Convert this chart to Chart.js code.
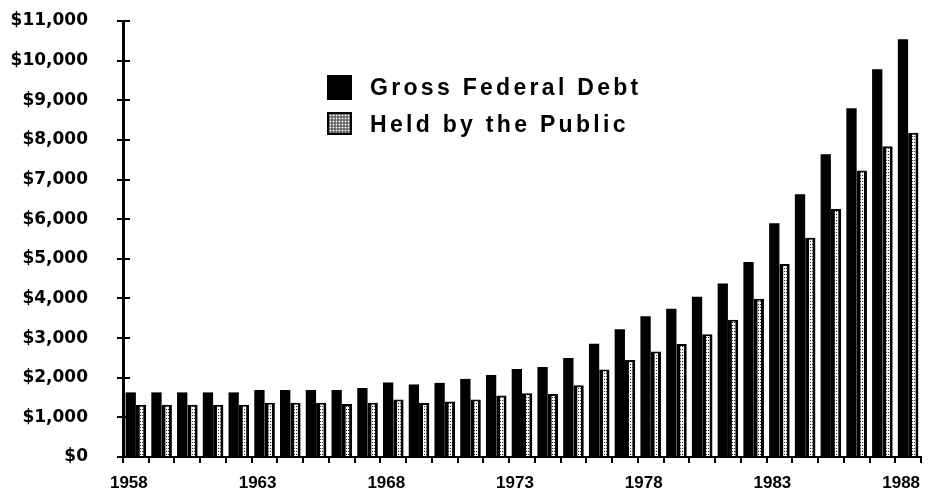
<!DOCTYPE html>
<html>
<head>
<meta charset="utf-8">
<script src="https://cdn.jsdelivr.net/npm/chart.js@4"></script>
<style>
  html, body { margin: 0; padding: 0; background: #fff; overflow: hidden; }
  #wrap { position: relative; width: 932px; height: 493px; }
  #c { display: block; width: 932px; height: 493px; }
  #legend { position: absolute; left: 327px; top: 75px; font-family: "Liberation Sans", Arial, sans-serif; font-weight: bold; font-size: 23px; letter-spacing: 3.3px; color: #000; }
  .row { position: relative; height: 37px; }
  .box { position: absolute; left: 0; width: 25px; height: 25px; box-sizing: border-box; }
  .box.solid { background: #000; top: 0; }
  .box.hatch { top: 0; height: 23px; border: 2px solid #000;
    background-color: #666;
    background-image: radial-gradient(circle, #fff 0.8px, transparent 1.1px);
    background-size: 3px 3px; }
  .lbl { position: absolute; left: 43px; top: -2px; white-space: nowrap; line-height: 28px; }
</style>
</head>
<body>
<div id="wrap">
  <canvas id="c" width="932" height="493"></canvas>
  <div id="legend">
    <div class="row"><div class="box solid"></div><div class="lbl">Gross Federal Debt</div></div>
    <div class="row"><div class="box hatch"></div><div class="lbl">Held by the Public</div></div>
  </div>
</div>
<script>
const years = [1958,1959,1960,1961,1962,1963,1964,1965,1966,1967,1968,1969,1970,1971,1972,1973,1974,1975,1976,1977,1978,1979,1980,1981,1982,1983,1984,1985,1986,1987,1988];
const grossFederalDebt = [1630,1630,1630,1630,1630,1690,1690,1690,1690,1740,1880,1830,1870,1970,2070,2220,2270,2500,2860,3220,3550,3740,4040,4380,4920,5900,6630,7640,8800,9780,10540];
const heldByPublic = [1320,1320,1320,1320,1320,1370,1370,1370,1340,1370,1450,1360,1400,1450,1550,1610,1590,1810,2210,2450,2660,2850,3100,3460,3990,4870,5530,6260,7230,7840,8180];
const yTicks = [0,1000,2000,3000,4000,5000,6000,7000,8000,9000,10000,11000];
const labeledYears = [1958,1963,1968,1973,1978,1983,1988];

// dotted fill pattern for "Held by the Public"
const pc = document.createElement('canvas');
pc.width = 2; pc.height = 3;
const px = pc.getContext('2d');
px.fillStyle = '#fff'; px.fillRect(0,0,2,3);
px.fillStyle = '#222'; px.fillRect(0,1,1,1);
const ctx = document.getElementById('c').getContext('2d');
const dotPattern = ctx.createPattern(pc, 'repeat');

const innerTicks = {
  id: 'innerTicks',
  afterDraw(chart) {
    const y = chart.scales.y;
    const c = chart.ctx;
    c.save();
    c.strokeStyle = '#000';
    c.lineWidth = 2;
    yTicks.forEach(v => {
      const py = Math.round(y.getPixelForValue(v));
      c.beginPath();
      c.moveTo(y.right, py);
      c.lineTo(y.right + 7, py);
      c.stroke();
    });
    c.restore();
  }
};

new Chart(ctx, {
  type: 'bar',
  data: {
    labels: years.map(String),
    datasets: [
      { label: 'Gross Federal Debt', data: grossFederalDebt, backgroundColor: '#000', borderWidth: 0 },
      { label: 'Held by the Public', data: heldByPublic, backgroundColor: dotPattern, borderColor: '#000',
        borderWidth: { top: 2, right: 3, left: 4, bottom: 0 }, borderSkipped: 'start' }
    ]
  },
  options: {
    responsive: false,
    maintainAspectRatio: false,
    devicePixelRatio: 1,
    animation: false,
    layout: { padding: { top: 21, right: 11, bottom: 0, left: 0 } },
    datasets: { bar: { categoryPercentage: 0.8, barPercentage: 1.0 } },
    plugins: { legend: { display: false }, tooltip: { enabled: false } },
    scales: {
      x: {
        offset: true,
        afterFit: s => { s.height = 36; s.paddingLeft = 0; s.paddingRight = 0; },
        grid: { offset: true, drawOnChartArea: false, drawTicks: true, tickLength: 6, color: '#000', lineWidth: 2 },
        border: { display: true, color: '#000', width: 2 },
        ticks: {
          autoSkip: false, maxRotation: 0, minRotation: 0, padding: 10, labelOffset: -7, color: '#000',
          font: { family: 'Liberation Sans', weight: 'bold', size: 17 },
          callback: function(v, i) { return labeledYears.includes(years[i]) ? String(years[i]) : ''; }
        }
      },
      y: {
        min: 0, max: 11000,
        afterFit: s => { s.width = 123; s.paddingTop = 10; s.paddingBottom = 10; },
        afterBuildTicks: s => { s.ticks = yTicks.map(v => ({ value: v })); },
        grid: { drawOnChartArea: false, drawTicks: true, tickLength: 6, color: '#000', lineWidth: 2 },
        border: { display: true, color: '#000', width: 3 },
        ticks: {
          padding: 29, color: '#000',
          font: { family: 'DejaVu Sans', weight: 'bold', size: 17 },
          callback: v => '$' + Number(v).toLocaleString('en-US')
        }
      }
    }
  },
  plugins: [innerTicks]
});
</script>
</body>
</html>
